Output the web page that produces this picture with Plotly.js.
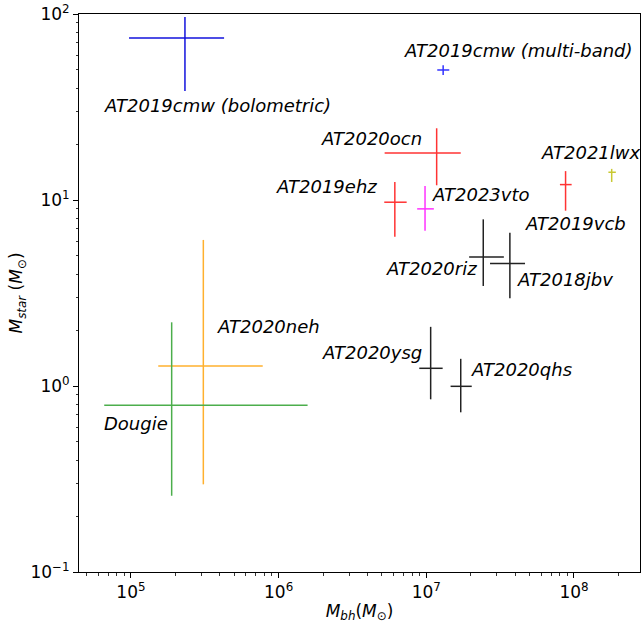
<!DOCTYPE html>
<html>
<head>
<meta charset="utf-8">
<script src="https://cdn.plot.ly/plotly-3.0.1.min.js"></script>
<style>html,body{margin:0;padding:0;background:#fff;}#chart{width:641px;height:625px;}</style>
</head>
<body>
<div id="chart"></div>
<script>
// Event names
const names = ["AT2019cmw (bolometric)", "AT2019cmw (multi-band)", "AT2020ocn", "AT2019ehz",
  "AT2023vto", "AT2019vcb", "AT2021lwx", "AT2020riz", "AT2018jbv", "AT2020ysg", "AT2020qhs",
  "AT2020neh", "Dougie"];
// Black hole mass (M_sun): central value and lower/upper bounds
const mbh   = [2.32e5, 1.30e7, 1.175e7, 6.12e6, 9.8e6, 8.77e7, 1.80e8, 2.43e7, 3.68e7, 1.07e7, 1.71e7, 3.09e5, 1.886e5];
const mbhLo = [9.7e4, 1.186e7, 5.22e6, 5.19e6, 8.67e6, 8.03e7, 1.71e8, 1.95e7, 2.70e7, 8.96e6, 1.46e7, 1.53e5, 6.59e4];
const mbhHi = [4.27e5, 1.43e7, 1.71e7, 7.36e6, 1.125e7, 9.64e7, 1.92e8, 3.35e7, 4.66e7, 1.29e7, 2.03e7, 7.80e5, 1.57e6];
// Stellar mass (M_sun): central value and lower/upper bounds
const mstar   = [74.3, 50.0, 17.9, 9.73, 8.96, 12.1, 14.1, 4.94, 4.55, 1.245, 0.996, 1.28, 0.787];
const mstarLo = [38.5, 47.0, 12.0, 6.35, 6.84, 8.76, 12.5, 3.45, 2.96, 0.848, 0.722, 0.296, 0.257];
const mstarHi = [96.4, 53.0, 24.3, 12.5, 11.9, 14.3, 14.7, 7.87, 6.67, 2.08, 1.40, 6.10, 2.20];
// Colours
const colors = ["#1212dc", "#3333ff", "#ff3333", "#ff3333", "#ff33ff", "#ff3333", "#c8c832",
  "#222222", "#222222", "#222222", "#222222", "#ffb02e", "#4cae4c"];
// Label anchor (data coords, left edge / vertical middle of text)
const labelX = [6.7e4, 7.16e6, 1.96e6, 9.7e5, 1.11e7, 4.72e7, 6.07e7, 5.4e6, 4.17e7, 2.0e6, 2.04e7, 3.88e5, 6.7e4];
const labelY = [32.4, 64.0, 21.5, 11.75, 10.64, 7.52, 17.9, 4.26, 3.76, 1.52, 1.22, 2.10, 0.632];

const traces = names.map((n, i) => ({
  type: "scatter",
  mode: "markers",
  x: [mbh[i]],
  y: [mstar[i]],
  marker: {size: 1, opacity: 0, color: colors[i]},
  error_x: {type: "data", symmetric: false, array: [mbhHi[i] - mbh[i]], arrayminus: [mbh[i] - mbhLo[i]],
            color: colors[i], thickness: 1.5, width: 0},
  error_y: {type: "data", symmetric: false, array: [mstarHi[i] - mstar[i]], arrayminus: [mstar[i] - mstarLo[i]],
            color: colors[i], thickness: 1.5, width: 0},
  showlegend: false,
  hoverinfo: "skip",
  name: n
}));

const annotations = names.map((n, i) => ({
  xref: "x", yref: "y",
  x: Math.log10(labelX[i]), y: Math.log10(labelY[i]),
  text: "<i>" + n + "</i>",
  showarrow: false,
  xanchor: "left", yanchor: "middle",
  xshift: -2,
  borderpad: 0,
  font: {family: "DejaVu Sans", size: 18, color: "#000"}
}));

function minorVals(lo, hi) {
  const v = [];
  for (let e = lo; e <= hi; e++) for (let m = 2; m <= 9; m++) v.push(m * Math.pow(10, e));
  return v;
}

const tickFont = {family: "DejaVu Sans", size: 17, color: "#000"};
const layout = {
  width: 641, height: 625,
  margin: {l: 79, r: 1, t: 14, b: 53},
  paper_bgcolor: "#fff", plot_bgcolor: "#fff",
  showlegend: false,
  xaxis: {
    type: "log", range: [4.648, 8.447],
    showgrid: false, zeroline: false,
    showline: true, linecolor: "#000", linewidth: 1, mirror: true,
    ticks: "outside", ticklen: 5, tickwidth: 1, tickcolor: "#000",
    tickmode: "array",
    tickvals: [1e5, 1e6, 1e7, 1e8],
    ticktext: ["10<sup>5</sup>", "10<sup>6</sup>", "10<sup>7</sup>", "10<sup>8</sup>"],
    tickfont: tickFont,
    minor: {ticks: "outside", ticklen: 2.5, tickwidth: 0.8, tickcolor: "#000", tickmode: "array", tickvals: minorVals(4, 8), showgrid: false},
    title: {text: "<i>M</i><sub><i>bh</i></sub>(<i>M</i><sub>⊙</sub>)", font: {family: "DejaVu Sans", size: 17, color: "#000"}, standoff: 3}
  },
  yaxis: {
    type: "log", range: [-1, 2],
    showgrid: false, zeroline: false,
    showline: true, linecolor: "#000", linewidth: 1, mirror: true,
    ticks: "outside", ticklen: 5, tickwidth: 1, tickcolor: "#000",
    tickmode: "array",
    tickvals: [0.1, 1, 10, 100],
    ticktext: ["10<sup>−1</sup>", "10<sup>0</sup>", "10<sup>1</sup>", "10<sup>2</sup>"],
    tickfont: tickFont,
    minor: {ticks: "outside", ticklen: 2.5, tickwidth: 0.8, tickcolor: "#000", tickmode: "array", tickvals: minorVals(-1, 1), showgrid: false},
    title: {text: "<i>M</i><sub><i>star</i></sub> (<i>M</i><sub>⊙</sub>)", font: {family: "DejaVu Sans", size: 17, color: "#000"}, standoff: 3}
  },
  annotations: annotations
};

Plotly.newPlot("chart", traces, layout, {staticPlot: true, displayModeBar: false});
</script>
</body>
</html>
